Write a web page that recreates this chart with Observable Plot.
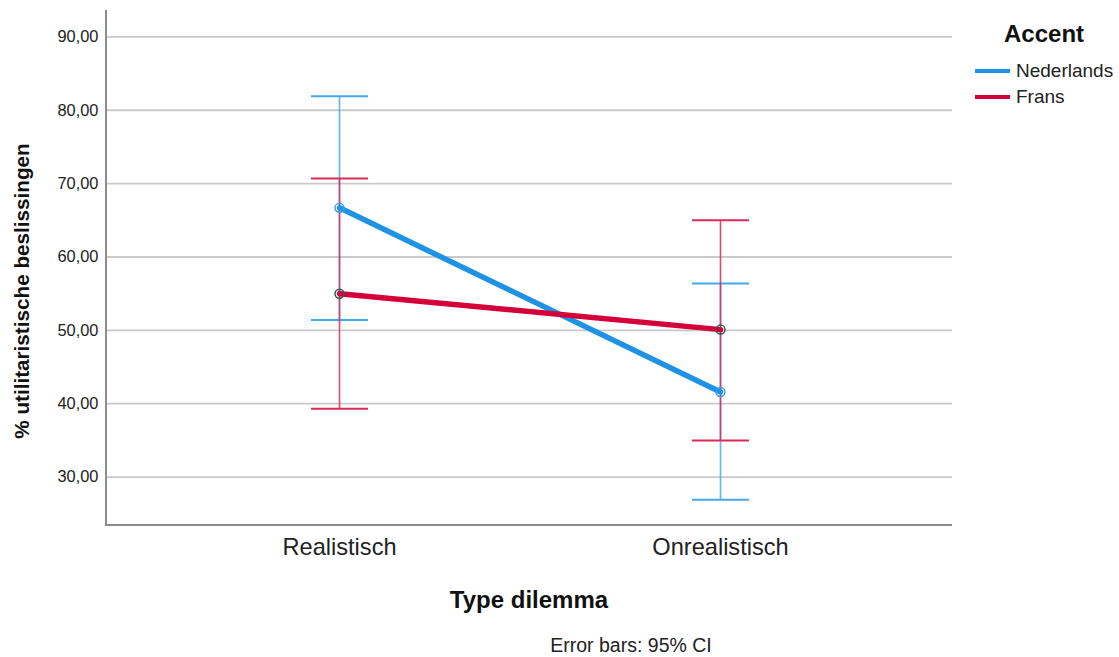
<!DOCTYPE html>
<html>
<head>
<meta charset="utf-8">
<script src="https://cdn.jsdelivr.net/npm/d3@7"></script>
<script src="https://cdn.jsdelivr.net/npm/@observablehq/plot@0.6"></script>
<style>
  html, body { margin: 0; padding: 0; background: #fff; }
  #wrap { position: relative; width: 1119px; height: 657px; font-family: "Liberation Sans", Arial, sans-serif; color: #111; }
  #wrap svg { position: absolute; left: 0; top: 0; }
  .ytitle { position: absolute; left: 22px; top: 291px; transform: translate(-50%, -50%) rotate(-90deg); font-weight: bold; font-size: 20.7px; white-space: nowrap; }
  .xtitle { position: absolute; left: 529px; top: 600px; transform: translate(-50%, -50%); font-weight: bold; font-size: 24px; white-space: nowrap; }
  .caption { position: absolute; left: 631px; top: 645px; transform: translate(-50%, -50%); font-size: 19.5px; white-space: nowrap; color: #222; }
  .legend { position: absolute; left: 975px; top: 19px; }
  .legend .lt { font-weight: bold; font-size: 24px; margin-left: 29px; margin-bottom: 9px; line-height: 30px; }
  .legend .row { display: flex; align-items: center; height: 26px; font-size: 19px; color: #222; }
  .legend .sw { width: 35px; height: 4.5px; margin-right: 6px; }
</style>
</head>
<body>
<div id="wrap"></div>
<script>
const categories = ["Realistisch", "Onrealistisch"];
const series = ["Nederlands", "Frans"];
const colors = ["#1e92e4", "#d4003c"];
const barColors = ["#44a8ec", "#dc2a58"];
const meanNederlands = [66.7, 41.6];
const loNederlands = [51.4, 26.9];
const hiNederlands = [81.9, 56.4];
const meanFrans = [55.0, 50.1];
const loFrans = [39.3, 35.0];
const hiFrans = [70.7, 65.0];
const yTicks = [30, 40, 50, 60, 70, 80, 90];

const rows = [];
categories.forEach((c, i) => {
  rows.push({type: c, accent: "Nederlands", mean: meanNederlands[i], lo: loNederlands[i], hi: hiNederlands[i]});
  rows.push({type: c, accent: "Frans", mean: meanFrans[i], lo: loFrans[i], hi: hiFrans[i]});
});
const ned = rows.filter(d => d.accent === "Nederlands");
const fr = rows.filter(d => d.accent === "Frans");

const capSymbol = { draw(ctx, size) { const w = Math.sqrt(size / Math.PI); ctx.moveTo(-w, 0); ctx.lineTo(w, 0); } };

const axisLines = (index, scales, values, dims) => {
  const g = d3.create("svg:g");
  const x0 = dims.marginLeft, x1 = dims.width - dims.marginRight;
  const y0 = dims.marginTop, y1 = dims.height - dims.marginBottom;
  g.append("line").attr("x1", x0).attr("x2", x0).attr("y1", y0).attr("y2", y1 + 1).attr("stroke", "#8c8c8c").attr("stroke-width", 2);
  g.append("line").attr("x1", x0).attr("x2", x1).attr("y1", y1).attr("y2", y1).attr("stroke", "#8c8c8c").attr("stroke-width", 2);
  return g.node();
};

const errMarks = (data, k) => [
  Plot.ruleX(data, {x: "type", y1: "lo", y2: "hi", stroke: barColors[k], strokeWidth: 1.6, strokeOpacity: 0.85}),
  Plot.dot(data, {x: "type", y: "lo", symbol: capSymbol, r: 28.5, stroke: barColors[k], strokeWidth: 2, fill: "none"}),
  Plot.dot(data, {x: "type", y: "hi", symbol: capSymbol, r: 28.5, stroke: barColors[k], strokeWidth: 2, fill: "none"})
];

const chart = Plot.plot({
  width: 1119,
  height: 657,
  marginLeft: 106,
  marginRight: 167,
  marginTop: 10,
  marginBottom: 132,
  style: { fontFamily: "'Liberation Sans', Arial, sans-serif", background: "transparent" },
  x: { type: "point", domain: categories, padding: 0.61, label: null },
  y: { domain: [23.4, 93.6], label: null },
  marks: [
    Plot.gridY(yTicks, {stroke: "#c9c9c9", strokeOpacity: 1, strokeWidth: 1.8}),
    Plot.axisY(yTicks, {tickSize: 0, tickPadding: 8, fontSize: 16.4, fill: "#222", tickFormat: d => d.toFixed(2).replace(".", ","), label: null}),
    Plot.axisX({tickSize: 0, tickPadding: 13, fontSize: 23.6, fill: "#222", label: null}),
    axisLines,
    ...errMarks(ned, 0),
    ...errMarks(fr, 1),
    Plot.line(ned, {x: "type", y: "mean", stroke: colors[0], strokeWidth: 5.5}),
    Plot.line(fr, {x: "type", y: "mean", stroke: colors[1], strokeWidth: 5.5}),
    Plot.dot(ned, {x: "type", y: "mean", r: 4.5, stroke: "#3c9ee6", strokeWidth: 1.5, fill: "none"}),
    Plot.dot(fr, {x: "type", y: "mean", r: 4.5, stroke: "#2f5d52", strokeWidth: 1.5, fill: "none"})
  ]
});

const wrap = document.getElementById("wrap");
wrap.appendChild(chart);

const yt = document.createElement("div"); yt.className = "ytitle"; yt.textContent = "% utilitaristische beslissingen"; wrap.appendChild(yt);
const xt = document.createElement("div"); xt.className = "xtitle"; xt.textContent = "Type dilemma"; wrap.appendChild(xt);
const cap = document.createElement("div"); cap.className = "caption"; cap.textContent = "Error bars: 95% CI"; wrap.appendChild(cap);

const lg = document.createElement("div"); lg.className = "legend";
const lt = document.createElement("div"); lt.className = "lt"; lt.textContent = "Accent"; lg.appendChild(lt);
series.forEach((s, i) => {
  const r = document.createElement("div"); r.className = "row";
  const sw = document.createElement("div"); sw.className = "sw"; sw.style.background = colors[i];
  const t = document.createElement("span"); t.textContent = s;
  r.appendChild(sw); r.appendChild(t); lg.appendChild(r);
});
wrap.appendChild(lg);
</script>
</body>
</html>
